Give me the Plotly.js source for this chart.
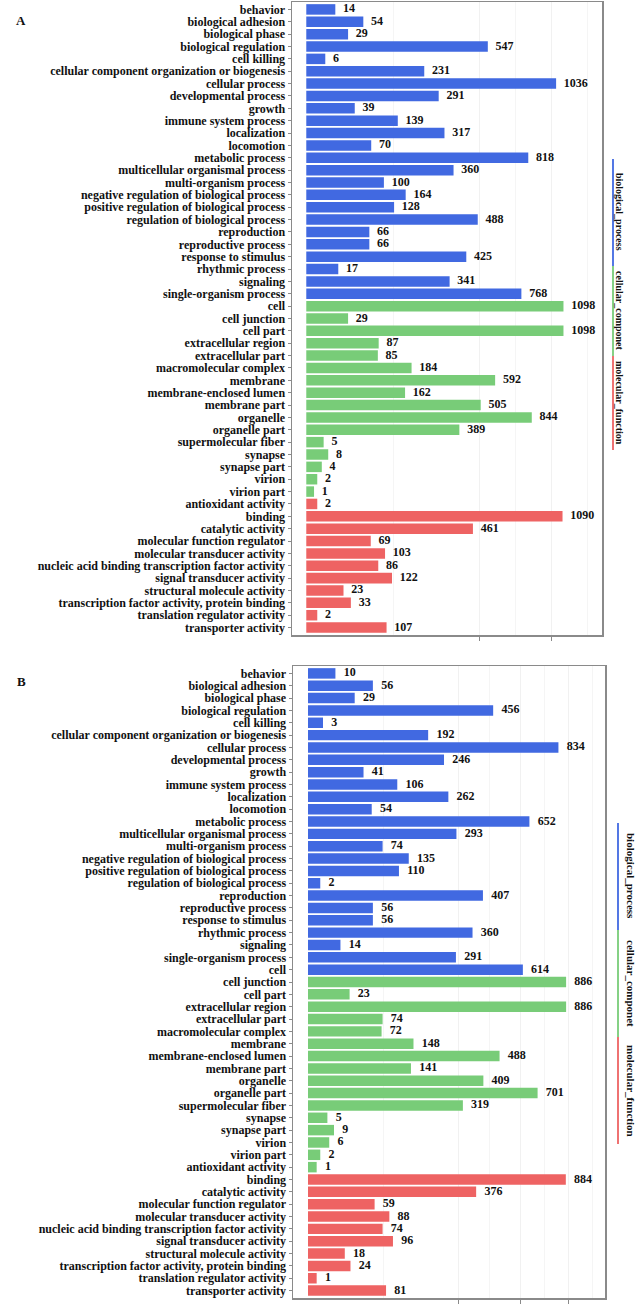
<!DOCTYPE html>
<html>
<head>
<meta charset="utf-8">
<script src="https://cdn.plot.ly/plotly-3.0.1.min.js"></script>
<style>html,body{margin:0;padding:0;background:#fff;}#chart{width:640px;height:1305px;}</style>
</head>
<body>
<div id="chart"></div>
<script>
// ---------- DATA ----------
const categories = [
  "behavior","biological adhesion","biological phase","biological regulation","cell killing",
  "cellular component organization or biogenesis","cellular process","developmental process","growth",
  "immune system process","localization","locomotion","metabolic process","multicellular organismal process",
  "multi-organism process","negative regulation of biological process","positive regulation of biological process",
  "regulation of biological process","reproduction","reproductive process","response to stimulus","rhythmic process",
  "signaling","single-organism process",
  "cell","cell junction","cell part","extracellular region","extracellular part","macromolecular complex","membrane",
  "membrane-enclosed lumen","membrane part","organelle","organelle part","supermolecular fiber","synapse","synapse part",
  "virion","virion part",
  "antioxidant activity","binding","catalytic activity","molecular function regulator","molecular transducer activity",
  "nucleic acid binding transcription factor activity","signal transducer activity","structural molecule activity",
  "transcription factor activity, protein binding","translation regulator activity","transporter activity"
];
const valuesA = [14,54,29,547,6,231,1036,291,39,139,317,70,818,360,100,164,128,488,66,66,425,17,341,768,
  1098,29,1098,87,85,184,592,162,505,844,389,5,8,4,2,1,
  2,1090,461,69,103,86,122,23,33,2,107];
const valuesB = [10,56,29,456,3,192,834,246,41,106,262,54,652,293,74,135,110,2,407,56,56,360,14,291,614,
  886,23,886,74,72,148,488,141,409,701,319,5,9,6,2,1,
  884,376,59,88,74,96,18,24,1,81];
// number of bars per colour group (biological_process, cellular_componet, molecular_function)
const groupSizesA = [24,16,11];
const groupSizesB = [25,16,10];
const groupNames = ["biological_process","cellular_componet","molecular_function"];
const majorTicksA = [500,1000];
const majorTicksB = [300,600,900];

// ---------- STYLE ----------
const groupColors = ["#4169E1","#78CC78","#EE6363"];
const FONT = "Liberation Serif, Times New Roman, serif";

function colorsFor(sizes){
  const out=[]; sizes.forEach((n,i)=>{for(let k=0;k<n;k++) out.push(groupColors[i]);}); return out;
}
const sq = v => Math.sqrt(v);

function panel(vals, sizes, xa, ya, pad){
  return [
    {type:'bar', orientation:'h', x: vals.map(sq), y: categories, xaxis:xa, yaxis:ya,
     marker:{color: colorsFor(sizes), line:{width:0}}, width:0.85, hoverinfo:'skip'},
    {type:'scatter', mode:'text', x: vals.map(v=>sq(v)+pad), y: categories, xaxis:xa, yaxis:ya,
     text: vals.map(String), textposition:'middle right', cliponaxis:false, hoverinfo:'skip',
     textfont:{family:FONT, size:12, color:'#111', weight:'bold'}}
  ];
}

function midpoints(ticks, max){
  const t=[0].concat(ticks).map(sq); const m=[];
  for(let i=0;i<t.length-1;i++) m.push((t[i]+t[i+1])/2);
  const nxt = 2*t[t.length-1]-t[t.length-2];
  m.push((t[t.length-1]+nxt)/2);
  return m.filter(x=>x<max);
}

const W=640, H=1305;
const px = x => x/W, py = y => 1 - y/H;

function xax(domain, range, ticks){
  return {domain, range, showline:true, mirror:true, linecolor:'#8a8a8a', linewidth:1.5,
    zeroline:false, tickmode:'array', tickvals: ticks.map(sq), ticktext: ticks.map(()=>''),
    ticks:'outside', ticklen:4, tickcolor:'#8a8a8a', tickwidth:1,
    showgrid:true, gridcolor:'#f1f1f1', gridwidth:1,
    minor:{tickmode:'array', tickvals: midpoints(ticks, range[1]), showgrid:true, gridcolor:'#f5f5f5', ticks:''},
    fixedrange:true};
}
function yax(domain){
  return {domain, type:'category', categoryorder:'array', categoryarray:categories,
    tickmode:'array', tickvals:categories, ticktext:categories,
    range:[categories.length-0.4, -0.6], showline:true, mirror:true, linecolor:'#8a8a8a', linewidth:1.5,
    ticks:'outside', ticklen:3, tickcolor:'#8a8a8a', showgrid:false, zeroline:false,
    tickfont:{family:FONT, size:12, color:'#111', weight:'bold'}, fixedrange:true, automargin:false};
}

const data = [].concat(panel(valuesA, groupSizesA, 'x','y', 1.0), panel(valuesB, groupSizesB, 'x2','y2', 0.95));

// legend strips (pixel positions)
const legA = {x:613, tx:620, fs:10, segs:[[159,266],[266,356],[356,450]], tc:[212,311,403]};
const legB = {x:618, tx:631, fs:11, segs:[[823,930],[930,1037],[1037,1144]], tc:[876,983,1091]};
const shapes=[], annotations=[];
[legA,legB].forEach(L=>{
  L.segs.forEach((s,i)=>{
    shapes.push({type:'line', xref:'paper', yref:'paper', x0:px(L.x), x1:px(L.x), y0:py(s[0]), y1:py(s[1]),
      line:{color:groupColors[i], width:1.8}});
    annotations.push({xref:'paper', yref:'paper', x:px(L.tx), y:py(L.tc[i]), text:groupNames[i], showarrow:false,
      textangle:90, xanchor:'center', yanchor:'middle', font:{family:FONT, size:L.fs, color:'#111', weight:'bold'}});
  });
});
annotations.push({xref:'paper', yref:'paper', x:px(21), y:py(20), text:'A', showarrow:false, xanchor:'center', yanchor:'middle',
  font:{family:FONT, size:13, color:'#111', weight:'bold'}});
annotations.push({xref:'paper', yref:'paper', x:px(21), y:py(681), text:'B', showarrow:false, xanchor:'center', yanchor:'middle',
  font:{family:FONT, size:13, color:'#111', weight:'bold'}});

const layout = {
  width:W, height:H, margin:{l:0,r:0,t:0,b:0}, paper_bgcolor:'#fff', plot_bgcolor:'#fff',
  showlegend:false, bargap:0.16,
  xaxis: xax([px(292), px(602)], [-1.84, 38.1], majorTicksA),
  yaxis: yax([py(635), py(2)]),
  xaxis2: xax([px(293), px(605)], [-1.73, 34.25], majorTicksB),
  yaxis2: yax([py(1298), py(666)]),
  shapes, annotations
};
layout.xaxis2.anchor='y2'; layout.yaxis2.anchor='x2';
Plotly.newPlot('chart', data, layout, {displayModeBar:false, staticPlot:true});
</script>
</body>
</html>
